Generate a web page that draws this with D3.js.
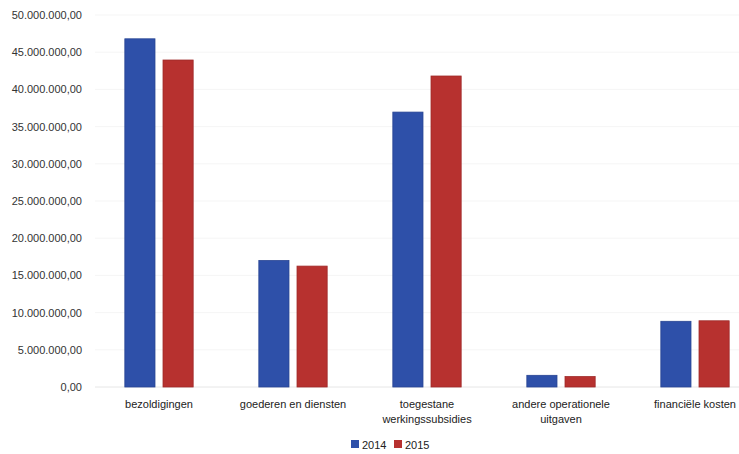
<!DOCTYPE html>
<html>
<head>
<meta charset="utf-8">
<script src="https://cdn.jsdelivr.net/npm/d3@7"></script>
<style>
  body { margin: 0; background: #fff; }
  text { font-family: "Liberation Sans", Arial, sans-serif; }
</style>
</head>
<body>
<svg id="chart"></svg>
<script>
const categories = ["bezoldigingen", "goederen en diensten", "toegestane werkingssubsidies", "andere operationele uitgaven", "financiële kosten"];
const years = ["2014", "2015"];
const values2014 = [46800000, 17000000, 36950000, 1570000, 8830000];
const values2015 = [43950000, 16250000, 41800000, 1400000, 8900000];
const yTicks = [0, 5000000, 10000000, 15000000, 20000000, 25000000, 30000000, 35000000, 40000000, 45000000, 50000000];

const width = 739, height = 454;
const colors = { "2014": "#2e50a9", "2015": "#b7312f" };

const nl = d3.formatLocale({ decimal: ",", thousands: ".", grouping: [3], currency: ["€", ""] });
const fmt = nl.format(",.2f");

const data = categories.map((c, i) => ({ category: c, "2014": values2014[i], "2015": values2015[i] }));

const svg = d3.select("#chart").attr("width", width).attr("height", height);

const x = d3.scaleBand().domain(categories).range([92, 762]).paddingInner(0.49).paddingOuter(0.245);
const xInner = d3.scaleBand().domain(years).range([0, x.bandwidth()]).paddingInner(0.21);
const y = d3.scaleLinear().domain([0, 50000000]).range([387, 15]);

// faint gridlines
svg.append("g")
  .selectAll("line")
  .data(yTicks)
  .join("line")
  .attr("x1", 95).attr("x2", width)
  .attr("y1", d => y(d)).attr("y2", d => y(d))
  .attr("stroke", d => d === 0 ? "#e6e6e6" : "#f5f5f5");

const yAxis = svg.append("g")
  .attr("transform", "translate(82,0)")
  .call(d3.axisLeft(y).tickValues(yTicks).tickFormat(fmt).tickSize(0).tickPadding(0));
yAxis.select(".domain").remove();
yAxis.selectAll("text").style("font-size", "11px").attr("fill", "#333");

svg.append("g")
  .selectAll("g")
  .data(data)
  .join("g")
  .attr("transform", d => `translate(${x(d.category)},0)`)
  .selectAll("rect")
  .data(d => years.map(k => ({ key: k, value: d[k] })))
  .join("rect")
  .attr("x", d => xInner(d.key))
  .attr("width", xInner.bandwidth())
  .attr("y", d => y(d.value))
  .attr("height", d => y(0) - y(d.value))
  .attr("fill", d => colors[d.key])
  .attr("stroke", d => d3.color(colors[d.key]).darker(0.4))
  .attr("stroke-width", 0.8);

const xAxis = svg.append("g")
  .attr("transform", "translate(0,387)")
  .call(d3.axisBottom(x).tickSize(0).tickPadding(0));
xAxis.select(".domain").remove();
xAxis.selectAll("text")
  .style("font-size", "11px")
  .attr("fill", "#222")
  .attr("dy", null)
  .attr("y", 21)
  .each(function () { wrap(d3.select(this), 122); });

function wrap(text, maxWidth) {
  const words = text.text().split(/\s+/);
  text.text(null);
  let line = [];
  let lineNo = 0;
  let tspan = text.append("tspan").attr("x", 0).attr("y", 21);
  words.forEach(w => {
    line.push(w);
    tspan.text(line.join(" "));
    if (tspan.node().getComputedTextLength() > maxWidth && line.length > 1) {
      line.pop();
      tspan.text(line.join(" "));
      line = [w];
      lineNo++;
      tspan = text.append("tspan").attr("x", 0).attr("y", 21 + lineNo * 15).text(w);
    }
  });
}

const legend = svg.append("g").attr("transform", "translate(351,440)");
const item = legend.selectAll("g")
  .data(years)
  .join("g")
  .attr("transform", (d, i) => `translate(${i * 43},0)`);
item.append("rect")
  .attr("width", 8).attr("height", 8)
  .attr("fill", d => colors[d]);
item.append("text")
  .attr("x", 11).attr("y", 8.5)
  .style("font-size", "11px")
  .attr("fill", "#222")
  .text(d => d);
</script>
</body>
</html>
